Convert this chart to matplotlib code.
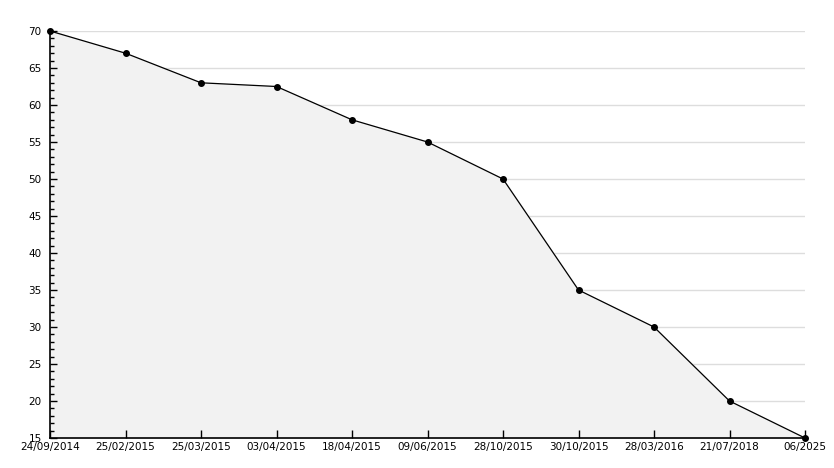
import matplotlib
matplotlib.use("Agg")
import matplotlib.pyplot as plt
from matplotlib.ticker import MultipleLocator

# 데이터
dates = ['24/09/2014', '25/02/2015', '25/03/2015', '03/04/2015', '18/04/2015',
         '09/06/2015', '28/10/2015', '30/10/2015', '28/03/2016', '21/07/2018', '06/2025']
values = [70, 67, 63, 62.5, 58, 55, 50, 35, 30, 20, 15]

fig = plt.figure(figsize=(8.34, 4.68), dpi=100)
ax = fig.add_axes([50/834, 30/468, 755/834, 407/468])

x = list(range(len(dates)))
ax.fill_between(x, values, 15, color='#f2f2f2', zorder=1)
ax.plot(x, values, color='black', linewidth=0.9, marker='o', markersize=4, zorder=3,
        clip_on=False)

ax.set_xlim(0, len(dates) - 1)
ax.set_ylim(15, 70)
ax.set_xticks(x)
ax.set_xticklabels(dates)
ax.yaxis.set_major_locator(MultipleLocator(5))
ax.yaxis.set_minor_locator(MultipleLocator(1))

# 격자선 (가로)
for y in range(20, 71, 5):
    ax.axhline(y, color='#dddddd', linewidth=1, zorder=0)

for s in ['top', 'right']:
    ax.spines[s].set_visible(False)
ax.spines['left'].set_linewidth(1.2)
ax.spines['bottom'].set_linewidth(1.2)

ax.tick_params(axis='y', which='major', direction='in', length=5, width=1, labelsize=7.5, pad=6)
ax.tick_params(axis='y', which='minor', direction='in', length=3, width=1)
ax.tick_params(axis='x', which='major', direction='in', length=6, width=1, labelsize=7.5, pad=3)

fig.savefig('out.png', dpi=100)
